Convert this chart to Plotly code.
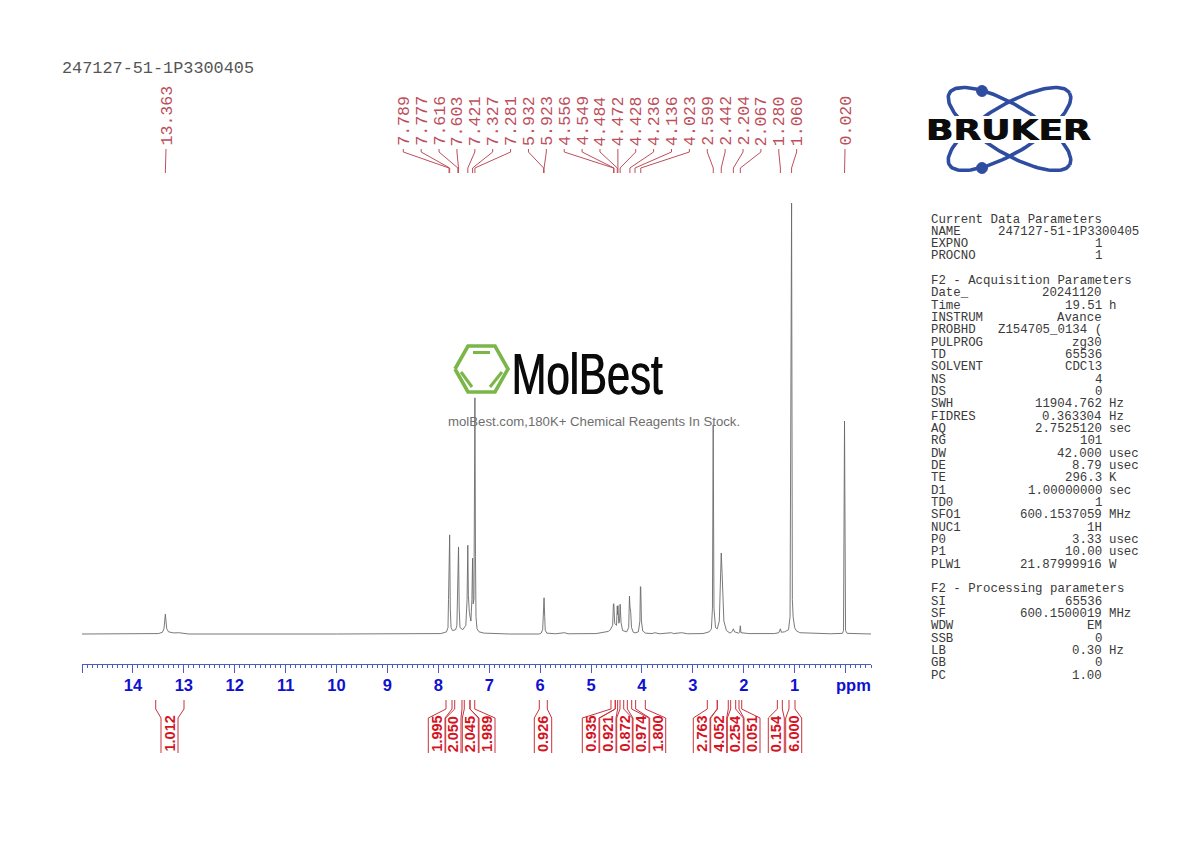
import math
import plotly.graph_objects as go

# ---------- data ----------
title_text = "247127-51-1P3300405"
spec_ppm = [15.0, 13.9, 13.5, 13.42, 13.39, 13.375, 13.363, 13.35, 13.335, 13.3, 13.2, 13.1, 13.0, 12.9, 10.0, 8.2,
            7.95, 7.84, 7.81, 7.8, 7.789, 7.783, 7.777, 7.765, 7.75, 7.72, 7.66, 7.635, 7.625, 7.616, 7.61, 7.603, 7.59,
            7.575, 7.52, 7.46, 7.435, 7.421, 7.41, 7.39, 7.36, 7.34, 7.327, 7.315, 7.3, 7.292, 7.281, 7.27, 7.26, 7.24,
            7.2, 7.1, 6.9, 6.6, 6.02, 5.98, 5.95, 5.94, 5.932, 5.927, 5.923, 5.91, 5.9, 5.87, 5.7, 5.52, 5.45, 4.9,
            4.78, 4.72, 4.66, 4.62, 4.575, 4.56, 4.552, 4.535, 4.5, 4.484, 4.478, 4.472, 4.455, 4.44, 4.428, 4.41, 4.38,
            4.3, 4.26, 4.245, 4.236, 4.22, 4.205, 4.17, 4.136, 4.07, 4.04, 4.03, 4.023, 4.01, 3.985, 3.93, 3.8, 3.75,
            3.65, 3.42, 3.38, 3.22, 3.1, 2.8, 2.68, 2.635, 2.615, 2.6, 2.585, 2.555, 2.52, 2.48, 2.455, 2.442, 2.425,
            2.41, 2.39, 2.34, 2.27, 2.225, 2.204, 2.18, 2.1, 2.08, 2.067, 2.055, 1.9, 1.4, 1.31, 1.28, 1.26, 1.2, 1.12,
            1.09, 1.06, 1.045, 1.03, 1.0, 0.97, 0.9, 0.6, 0.3, 0.06, 0.04, 0.02, 0.0, -0.03, -0.2, -0.5]
spec_int = [0, 0, 0.1, 0.4, 1.2, 3.0, 4.6, 3.0, 1.2, 0.5, 0.25, 0.3, 0.1, 0, 0, 0,
            0.1, 0.5, 1.5, 8, 22.8, 16, 23, 6, 1.5, 0.8, 1, 2, 8, 20, 15, 20.2, 6,
            1.5, 1, 2, 8, 20.6, 9, 5, 3, 8, 17.6, 7, 8, 20, 54.8, 18, 4, 1.2,
            0.5, 0.2, 0.1, 0, 0, 0.2, 1, 5, 8.4, 7.5, 8.4, 4, 0.9, 0.2, 0.05, 0.3, 0.05, 0.1,
            0.4, 0.4, 0.6, 1, 2, 7, 7, 2.5, 2, 6.5, 4.5, 6.6, 2.5, 3, 6.9, 2.6, 0.8,
            0.5, 1.5, 8.8, 6.5, 5, 1.5, 0.4, 0.25, 0.5, 3, 11, 10.9, 3, 0.7, 0.2, 0.1, 0.3,
            0.05, 0.3, 0.1, 0.3, 0.05, 0.1, 0.5, 1.2, 6, 48.5, 6, 1.5, 1.2, 3, 14, 18.8, 14,
            9, 3, 0.8, 0.2, 0.6, 1.2, 0.5, 0.2, 0.4, 1.9, 0.3, 0.1, 0.1, 0.3, 1.2, 0.4, 0.5, 1,
            4, 100, 8, 4, 1.5, 0.8, 0.3, 0.1, 0.05, 0.15, 0.8, 49.4, 0.8, 0.15, 0.05, 0]
tick_ppm = list(range(15, -1, -1))
tick_text = ["", "14", "13", "12", "11", "10", "9", "8", "7", "6", "5", "4", "3", "2", "1", ""]
peak_ppm = [13.363, 7.789, 7.777, 7.616, 7.603, 7.421, 7.327, 7.281, 5.932, 5.923, 4.556, 4.549, 4.484, 4.472, 4.428,
            4.236, 4.136, 4.023, 2.599, 2.442, 2.204, 2.067, 1.280, 1.060, 0.020]
integral_values = ["1.012", "1.995", "2.050", "2.045", "1.989", "0.926", "0.935", "0.921", "0.872", "0.974", "1.800",
                   "2.763", "4.052", "0.254", "0.051", "0.154", "6.000"]
integral_start = [13.552, 7.849, 7.678, 7.490, 7.378, 6.016, 4.608, 4.524, 4.431, 4.287, 4.123,
                  2.716, 2.520, 2.257, 2.093, 1.340, 1.111]
integral_end = [12.996, 7.731, 7.535, 7.378, 7.285, 5.859, 4.524, 4.477, 4.358, 4.201, 3.934,
                2.520, 2.304, 2.158, 2.040, 1.242, 0.993]
param_rows = [
    ("Current Data Parameters", "", ""), ("NAME", "247127-51-1P3300405", ""), ("EXPNO", "1", ""), ("PROCNO", "1", ""),
    ("", "", ""), ("F2 - Acquisition Parameters", "", ""), ("Date_", "20241120", ""), ("Time", "19.51", "h"),
    ("INSTRUM", "Avance", ""), ("PROBHD", "Z154705_0134 (", ""), ("PULPROG", "zg30", ""), ("TD", "65536", ""),
    ("SOLVENT", "CDCl3", ""), ("NS", "4", ""), ("DS", "0", ""), ("SWH", "11904.762", "Hz"), ("FIDRES", "0.363304", "Hz"),
    ("AQ", "2.7525120", "sec"), ("RG", "101", ""), ("DW", "42.000", "usec"), ("DE", "8.79", "usec"), ("TE", "296.3", "K"),
    ("D1", "1.00000000", "sec"), ("TD0", "1", ""), ("SFO1", "600.1537059", "MHz"), ("NUC1", "1H", ""), ("P0", "3.33", "usec"),
    ("P1", "10.00", "usec"), ("PLW1", "21.87999916", "W"), ("", "", ""), ("F2 - Processing parameters", "", ""),
    ("SI", "65536", ""), ("SF", "600.1500019", "MHz"), ("WDW", "EM", ""), ("SSB", "0", ""), ("LB", "0.30", "Hz"),
    ("GB", "0", ""), ("PC", "1.00", ""),
]

# ---------- layout helpers (page pixels) ----------
W, H = 1190, 842
PX_L, PX_R = 82, 871
PPM_L, PPM_R = 15.0, -0.5
def px(ppm):
    return PX_L + (PPM_L - ppm) * (PX_R - PX_L) / (PPM_L - PPM_R)

MONO = "Liberation Mono"
SANS = "Liberation Sans"
PEAK_RED = "#bd4f5c"
INT_RED = "#d4141f"
AXIS_BLUE = "#1010d0"
ann = []
def text(x, y, s, size, color, family=MONO, xa="left", ya="middle", angle=0, bold=False, shadow=None):
    f = dict(family=family, size=size, color=color, weight="bold" if bold else "normal")
    if shadow:
        f["shadow"] = shadow
    ann.append(dict(xref="x2", yref="y2", x=x, y=y, text=s, showarrow=False, xanchor=xa, yanchor=ya,
                    textangle=angle, font=f, borderpad=0, borderwidth=0))

fig = go.Figure()
fig.add_trace(go.Scatter(x=spec_ppm, y=spec_int, mode="lines", xaxis="x", yaxis="y", hoverinfo="skip",
                         line=dict(color="#6a6a6a", width=0.9), showlegend=False))

def seg(xs, ys, color, width, fill=None):
    fig.add_trace(go.Scatter(x=xs, y=ys, mode="lines", xaxis="x2", yaxis="y2", hoverinfo="skip", showlegend=False,
                             line=dict(color=color, width=width), fill="toself" if fill else None, fillcolor=fill))

# peak-pick fan
label_px = [166] + [403.3 + 17.88 * i for i in range(23)] + [845]
fx, fy = [], []
for lx, p in zip(label_px, peak_ppm):
    fx += [lx, lx, px(p), px(p), None]
    fy += [149, 152, 168, 173, None]
    text(lx + 0.5, 146, f"{p:.3f}", 16.6, PEAK_RED, angle=-90, xa="center", ya="bottom")
seg(fx, fy, PEAK_RED, 1)

# integrals
int_left = [161, 428.3, 445.7, 462.3, 479, 534.3, 582.3, 599.7, 616.7, 633, 649.7, 693.3, 710.7, 727.3, 744, 768.3, 785.7]
int_right = [178, 445, 461, 478.3, 495, 551.7, 599, 616, 632.3, 649, 665.7, 710, 726.7, 743.3, 760, 784.3, 801.7]
ix, iy = [], []
for v, a, b, l, r in zip(integral_values, integral_start, integral_end, int_left, int_right):
    for p, q in ((a, l), (b, r)):
        ix += [px(p), px(p), q, q, None]
        iy += [700, 709, 718, 753, None]
    text((l + r) / 2, 752, v, 14.5, INT_RED, family=SANS, angle=-90, xa="center", ya="bottom", bold=True)
seg(ix, iy, "#c8323c", 1)

# header
text(62, 68, title_text, 16.85, "#555555")
text(853, 685, "ppm", 16.5, AXIS_BLUE, family=SANS, xa="center", bold=True)

# parameter block
for i, (k, v, u) in enumerate(param_rows):
    y = 219.5 + 12.33 * i
    if k:
        text(931, y, k, 12.4, "#3a3a3a")
    if v:
        text(1138.5 if k == "NAME" else 1101.5, y, v, 12.4, "#3a3a3a", xa="right")
    if u:
        text(1109, y, u, 12.4, "#3a3a3a")

# Bruker logo
LOGO_BLUE = "#2f4da0"
for sgn in (1, -1):
    xs, ys = [], []
    for k in range(121):
        t = 2 * math.pi * k / 120
        a, b, th = 70, 24, math.radians(31) * sgn
        xs.append(1009.5 + a * math.cos(t) * math.cos(th) - b * math.sin(t) * math.sin(th))
        ys.append(129 + a * math.cos(t) * math.sin(th) + b * math.sin(t) * math.cos(th))
    seg(xs, ys, LOGO_BLUE, 3.6)
for cy in (91, 168):
    xs = [982 + 5.5 * math.cos(2 * math.pi * k / 40) for k in range(41)]
    ys = [cy + 5.5 * math.sin(2 * math.pi * k / 40) for k in range(41)]
    seg(xs, ys, LOGO_BLUE, 1, fill=LOGO_BLUE)
seg([922, 1094, 1094, 922, 922], [116, 116, 143, 143, 116], "#ffffff", 0, fill="#ffffff")
text(1007.5, 130, "BRUKER", 27.5, "#0c0c0c", family="DejaVu Sans", xa="center", bold=True, shadow="1px 0 0 #0c0c0c")

# MolBest watermark
GREEN = "#7ab648"
seg([455, 468, 495, 508, 495, 468, 455], [369, 346, 346, 369, 392, 392, 369], GREEN, 3.6)
for xs, ys in (([473, 490], [352.5, 352.5]), ([461, 472], [372, 387]), ([490, 502], [387, 372])):
    seg(xs, ys, GREEN, 3)
text(586.5, 373, "MolBest", 58, "#0a0a0a", family=SANS, xa="center", shadow="1px 0 0 #0a0a0a")
text(594, 421, "molBest.com,180K+ Chemical Reagents In Stock.", 13.2, "#6e6e6e", family=SANS, xa="center")

BASE_PX, TOP_PX, BOT_PX, UNIT = 634, 190, 664, 4.31
fig.update_layout(
    width=W, height=H, margin=dict(l=0, r=0, t=0, b=0), paper_bgcolor="white", plot_bgcolor="rgba(0,0,0,0)", showlegend=False,
    xaxis=dict(domain=[PX_L / W, PX_R / W], range=[PPM_L, PPM_R], anchor="y", showgrid=False, zeroline=False,
               showline=True, linecolor="#4a5cc0", linewidth=1, ticks="outside", ticklen=8, tickcolor="#4a5cc0",
               tickmode="array", tickvals=tick_ppm, ticktext=tick_text, ticklabelstandoff=-2,
               tickfont=dict(family=SANS, size=16.5, color=AXIS_BLUE, weight="bold"),
               minor=dict(ticks="outside", ticklen=3, tickcolor="#4a5cc0", tick0=0, dtick=0.1, showgrid=False)),
    yaxis=dict(domain=[(H - BOT_PX) / H, (H - TOP_PX) / H], range=[-(BOT_PX - BASE_PX) / UNIT, (BASE_PX - TOP_PX) / UNIT],
               anchor="x", visible=False),
    xaxis2=dict(domain=[0, 1], range=[0, W], anchor="y2", visible=False),
    yaxis2=dict(domain=[0, 1], range=[H, 0], anchor="x2", visible=False),
    annotations=ann,
)
# The logos' lettering is condensed / extended, which no installed font offers: stretch the real text horizontally.
post = """
document.body.style.margin='0';
var widths={'MolBest':151,'BRUKER':165};
document.querySelectorAll('text.annotation-text').forEach(function(t){
  var w=widths[t.textContent];
  if(!w)return;
  var b=t.getBBox(),c=b.x+b.width/2,s=w/b.width;
  t.setAttribute('transform','translate('+c+' 0) scale('+s+' 1) translate('+(-c)+' 0)');
});
"""
fig.write_html("out.html", post_script=post, config=dict(displayModeBar=False))
